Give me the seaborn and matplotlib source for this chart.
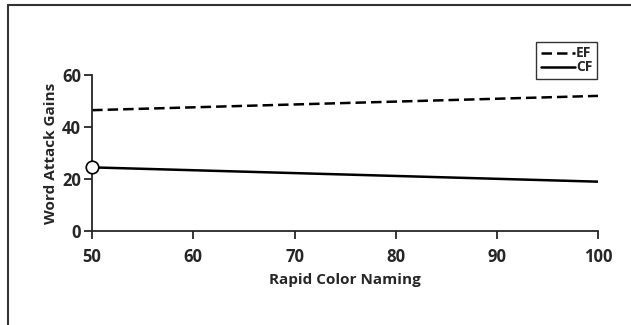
import matplotlib
matplotlib.use('Agg')
import matplotlib.pyplot as plt
from matplotlib.lines import Line2D
import pandas as pd
import seaborn as sns

# data
rapid_color = [50, 100]
ef_gains = [46.5, 52.0]
cf_gains = [24.5, 19.0]
groups = ['EF', 'CF']
x_ticks = [50, 60, 70, 80, 90, 100]
y_ticks = [0, 20, 40, 60]

df = pd.DataFrame({
    'Rapid Color Naming': rapid_color * 2,
    'Word Attack Gains': ef_gains + cf_gains,
    'group': [groups[0]] * 2 + [groups[1]] * 2,
})

sns.set_style('ticks')
plt.rcParams['font.family'] = ['Open Sans', 'DejaVu Sans']
plt.rcParams['font.weight'] = 'bold'

fig = plt.figure(figsize=(6.31, 3.25), dpi=100)
ax = fig.add_axes([0.146, 0.289, 0.802, 0.48])

dash = (4.2, 2.0)
sns.lineplot(data=df, x='Rapid Color Naming', y='Word Attack Gains',
             hue='group', style='group', palette=['black', 'black'],
             dashes={'EF': dash, 'CF': ''}, linewidth=1.8,
             legend=False, ax=ax)

# open circle at the left end of CF
ax.plot(rapid_color[0], cf_gains[0], 'o', ms=9, mfc='white', mec='black',
        mew=1.2, clip_on=False, zorder=5)

ax.set_xlim(50, 100)
ax.set_ylim(0, 60)
ax.set_xticks(x_ticks)
ax.set_yticks(y_ticks)
ax.tick_params(direction='out', length=6, width=1.3, labelsize=12)
ax.tick_params(axis='x', pad=6)
ax.tick_params(axis='y', pad=2)
for lab in ax.get_xticklabels() + ax.get_yticklabels():
    lab.set_fontweight('bold')
sns.despine(ax=ax)
for s in ['left', 'bottom']:
    ax.spines[s].set_linewidth(1.3)
ax.set_xlabel('Rapid Color Naming', fontsize=11, fontweight='bold', labelpad=5)
ax.set_ylabel('Word Attack Gains', fontsize=11, fontweight='bold', labelpad=3)

handles = [Line2D([], [], color='black', lw=1.8, ls=(0, dash)),
           Line2D([], [], color='black', lw=1.8)]
leg = ax.legend(handles, groups, loc='upper right', bbox_to_anchor=(0.998, 1.215),
                frameon=True, fancybox=False, fontsize=10, handlelength=2.4,
                handletextpad=0.1, borderpad=0.35, labelspacing=0.0,
                borderaxespad=0)
leg.get_frame().set_edgecolor('black')
leg.get_frame().set_linewidth(1.0)
for t in leg.get_texts():
    t.set_fontweight('bold')

# partial frame around the figure (top and left edges visible)
fig.add_artist(Line2D([0.013, 1.0], [0.985, 0.985], color='#333333', lw=1.5,
                      transform=fig.transFigure))
fig.add_artist(Line2D([0.013, 0.013], [0.0, 0.985], color='#333333', lw=1.5,
                      transform=fig.transFigure))

fig.savefig('out.png', dpi=100)
